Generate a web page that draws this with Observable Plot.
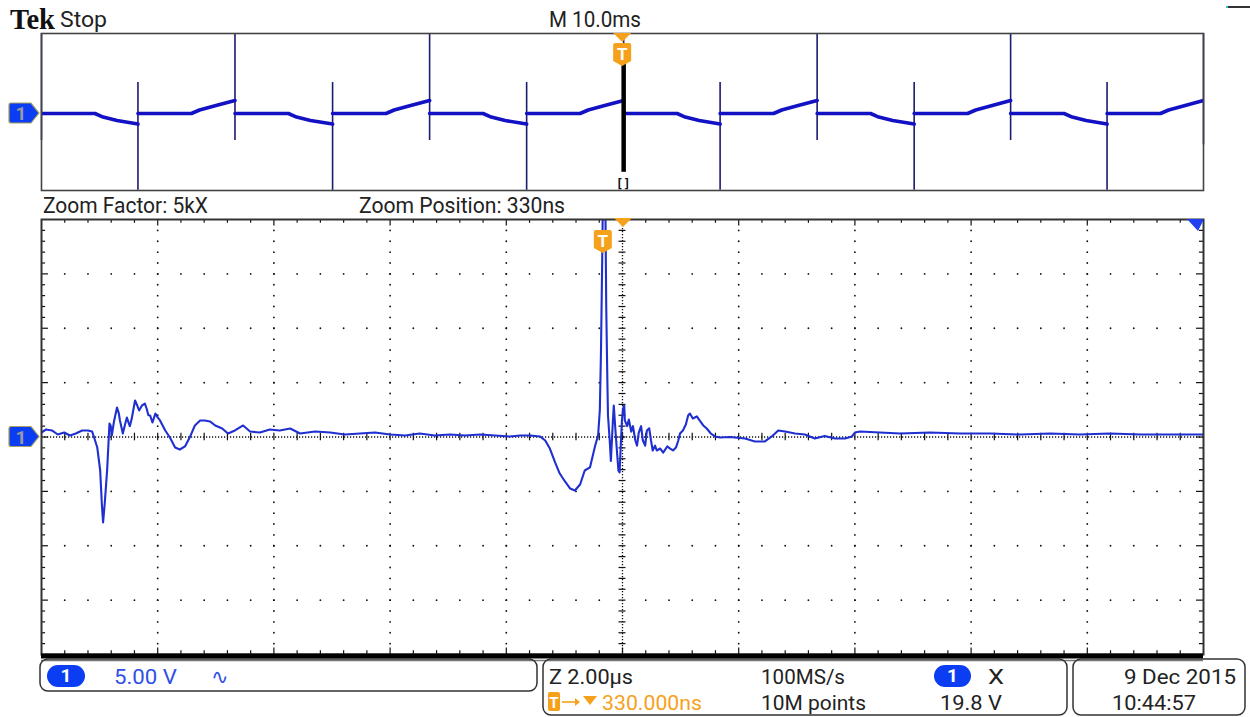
<!DOCTYPE html>
<html><head><meta charset="utf-8">
<script src="https://cdn.jsdelivr.net/npm/d3@7"></script>
<script src="https://cdn.jsdelivr.net/npm/@observablehq/plot@0.6"></script>
<style>
body{margin:0;background:#fff;}
#root{position:relative;width:1250px;height:717px;overflow:hidden;background:#fff;font-family:Roboto,sans-serif;}
</style></head><body><div id="root"></div>
<script>
// ---------------- DATA ----------------
// Zoomed window: time in µs (2.00 µs/div, 10 div), volts (5.00 V/div, 8 div)
const mainTrace = [
[-10.00,0.41],[-9.92,0.69],[-9.82,0.60],[-9.72,0.23],[-9.61,0.41],[-9.51,0.14],[-9.41,0.32],[-9.30,0.60],
[-9.20,0.60],[-9.13,0.51],[-9.10,0.05],[-9.04,-0.97],[-8.99,-3.08],[-8.96,-6.30],[-8.94,-7.86],[-8.91,-6.00],
[-8.87,-3.00],[-8.83,1.24],[-8.81,1.06],[-8.79,0.14],[-8.75,1.50],[-8.70,2.71],[-8.67,2.20],[-8.65,1.52],
[-8.62,0.80],[-8.60,0.32],[-8.56,1.20],[-8.53,1.79],[-8.50,1.30],[-8.48,1.00],[-8.45,1.60],[-8.39,3.36],
[-8.36,3.00],[-8.32,2.44],[-8.27,2.90],[-8.22,3.08],[-8.19,2.60],[-8.16,2.00],[-8.13,1.98],[-8.09,1.33],
[-8.04,2.16],[-8.00,1.80],[-7.96,1.52],[-7.87,0.60],[-7.79,-0.05],[-7.70,-0.97],[-7.62,-1.15],[-7.53,-0.87],
[-7.45,-0.05],[-7.36,1.06],[-7.27,1.52],[-7.19,1.52],[-7.10,1.43],[-7.01,1.06],[-6.89,0.78],[-6.79,0.32],
[-6.67,0.60],[-6.53,1.06],[-6.41,0.50],[-6.24,0.41],[-6.07,0.69],[-5.90,0.60],[-5.72,0.78],[-5.55,0.32],
[-5.29,0.51],[-5.03,0.41],[-4.78,0.23],[-4.52,0.32],[-4.26,0.41],[-4.00,0.23],[-3.74,0.14],[-3.49,0.32],
[-3.23,0.14],[-2.97,0.23],[-2.71,0.14],[-2.45,0.23],[-2.19,0.14],[-1.94,0.05],[-1.76,0.14],[-1.59,0.14],
[-1.42,0.05],[-1.33,-0.32],[-1.25,-1.06],[-1.16,-2.34],[-1.08,-3.36],[-0.99,-4.09],[-0.90,-4.74],[-0.82,-4.92],
[-0.73,-4.37],[-0.65,-3.08],[-0.56,-2.80],[-0.47,-0.78],[-0.42,0.14],[-0.39,2.50],[-0.37,8.00],[-0.35,16.00],
[-0.33,25.00],[-0.30,25.00],[-0.28,12.00],[-0.26,5.00],[-0.25,2.00],[-0.22,-0.32],[-0.20,-2.20],[-0.17,1.00],
[-0.15,2.90],[-0.12,0.50],[-0.09,-1.70],[-0.07,-3.10],[-0.05,-3.26],[-0.03,-0.80],[-0.01,1.50],[0.01,2.62],
[0.03,2.90],[0.04,1.52],[0.08,1.00],[0.11,1.60],[0.15,0.50],[0.18,1.00],[0.22,-0.30],[0.25,-0.80],
[0.28,0.40],[0.32,1.00],[0.35,-0.30],[0.39,-0.80],[0.42,0.60],[0.46,0.80],[0.49,-0.30],[0.52,-1.24],
[0.56,-0.80],[0.59,-1.24],[0.65,-1.06],[0.70,-1.43],[0.77,-0.87],[0.82,-1.06],[0.87,-1.24],[0.92,-0.97],
[0.96,-0.32],[0.99,0.32],[1.04,0.60],[1.09,1.15],[1.13,1.98],[1.16,2.16],[1.21,1.70],[1.28,1.89],
[1.33,1.50],[1.39,1.06],[1.45,0.78],[1.52,0.32],[1.59,0.05],[1.68,-0.05],[1.85,0.00],[2.11,-0.14],
[2.28,-0.41],[2.45,-0.41],[2.57,0.05],[2.68,0.60],[2.80,0.51],[2.97,0.32],[3.14,0.23],[3.31,-0.14],
[3.48,0.10],[3.66,-0.14],[3.83,-0.14],[3.95,0.05],[4.00,0.41],[4.09,0.51],[4.43,0.41],[4.78,0.32],
[5.29,0.41],[5.81,0.32],[6.33,0.32],[6.84,0.23],[7.36,0.32],[7.87,0.23],[8.39,0.32],[8.91,0.23],
[9.42,0.23],[10.00,0.23]
];

// Overview window: time in ms (10.0 ms/div), volts; null = break at each spike
const topTrace = [
[-50,0],[-45.4,0],[-44.7,-0.9],[-43.5,-1.8],[-41.7,-2.7],[-41.7,null],
[-41.7,0],[-37.1,0],[-36.4,0.9],[-34.9,2.1],[-33.35,3.3],[-33.35,null],
[-33.35,0],[-28.75,0],[-28.05,-0.9],[-26.85,-1.8],[-24.95,-2.7],[-24.95,null],
[-24.95,0],[-20.35,0],[-19.65,0.9],[-18.15,2.1],[-16.6,3.3],[-16.6,null],
[-16.6,0],[-12.0,0],[-11.3,-0.9],[-10.1,-1.8],[-8.25,-2.7],[-8.25,null],
[-8.25,0],[-3.65,0],[-2.95,0.9],[-1.45,2.1],[0.1,3.3],[0.1,null],
[0.1,0],[4.7,0],[5.4,-0.9],[6.6,-1.8],[8.4,-2.7],[8.4,null],
[8.4,0],[13.0,0],[13.7,0.9],[15.2,2.1],[16.75,3.3],[16.75,null],
[16.75,0],[21.35,0],[22.05,-0.9],[23.25,-1.8],[25.1,-2.7],[25.1,null],
[25.1,0],[29.7,0],[30.4,0.9],[31.9,2.1],[33.4,3.3],[33.4,null],
[33.4,0],[38.0,0],[38.7,-0.9],[39.9,-1.8],[41.7,-2.7],[41.7,null],
[41.7,0],[46.3,0],[47.0,0.9],[48.5,2.1],[50,3.3]
];
const spikeTime = [-50,-41.7,-33.35,-24.95,-16.6,-8.25,0.1,8.4,16.75,25.1,33.4,41.7,50];
const spikeHigh = [20.4,7.9,20.4,7.9,20.4,7.9,20.4,7.9,20.4,7.9,20.4,7.9,20.4];
const spikeLow  = [-6.9,-19.6,-6.9,-19.6,-6.9,-19.6,-6.9,-19.6,-6.9,-19.6,-6.9,-19.6,-8.0];
const triggerTime = 0.1, triggerTop = 13.0, triggerBottom = -15.0;
const zoomTriggerTime = -0.33;

// text labels
const headerLabels = {brand:"Tek", state:"Stop", timebase:"M 10.0ms",
  zoomFactor:"Zoom Factor: 5kX", zoomPos:"Zoom Position: 330ns"};
const statusLabels = {ch:"1", volts:"5.00 V", coupling:"∿", zscale:"Z 2.00µs", rate:"100MS/s",
  delay:"330.000ns", points:"10M points", trigLevel:"19.8 V", trigSlope:"X", date:"9 Dec  2015", time:"10:44:57"};

// ---------------- DRAW ----------------
const root = document.getElementById("root");
function place(el, left, top){ el.style.position="absolute"; el.style.left=left+"px"; el.style.top=top+"px"; root.appendChild(el); }

const BLUE = "#1f2fd0", ORANGE = "#f5a11c";

// graticule helpers
const minorX = d3.range(-25, 26).map(i => +(i*0.4).toFixed(2));
const minorY = d3.range(-20, 21);
const majorX = [-8,-6,-4,-2,2,4,6,8];
const majorY = [-15,-10,-5,5,10,15];
const innerX = minorX.filter(x => Math.abs(x) < 10);
const innerY = minorY.filter(y => Math.abs(y) < 20);
const gridDots = [
  ...majorX.flatMap(x => innerY.filter(y => y !== 0).map(y => ({x, y}))),
  ...majorY.flatMap(y => innerX.filter(x => x !== 0).map(x => ({x, y})))
];
const isMajX = x => Math.abs(x/2 - Math.round(x/2)) < 1e-6;
const isMajY = y => y % 5 === 0;

const MAIN_TOP = 212;
const mainPlot = Plot.plot({
  width: 1250, height: 450,
  marginLeft: 41, marginRight: 47, marginTop: 7, marginBottom: 8,
  x: {domain: [-10, 10], axis: null},
  y: {domain: [-20, 20], axis: null},
  style: {background: "transparent", overflow: "visible"},
  marks: [
    Plot.dot(gridDots, {x: "x", y: "y", r: 0.9, fill: "#111", stroke: null}),
    Plot.ruleX([0], {stroke: "#111", strokeWidth: 1.3, strokeDasharray: "1.2 1.8"}),
    Plot.ruleY([0], {stroke: "#111", strokeWidth: 1.3, strokeDasharray: "1.2 1.8"}),
    Plot.ruleX(innerX, {x: d => d, y1: -0.35, y2: 0.35, stroke: "#111", strokeWidth: 1.2}),
    Plot.ruleY(innerY, {y: d => d, x1: -0.06, x2: 0.06, stroke: "#111", strokeWidth: 1.2}),
    Plot.ruleX(innerX, {x: d => d, y1: 20, y2: d => isMajX(d) ? 19.4 : 19.65, stroke: "#111", strokeWidth: 1.2}),
    Plot.ruleX(innerX, {x: d => d, y1: -20, y2: d => isMajX(d) ? -19.4 : -19.65, stroke: "#111", strokeWidth: 1.2}),
    Plot.ruleY(innerY, {y: d => d, x1: -10, x2: d => isMajY(d) ? -9.88 : -9.93, stroke: "#111", strokeWidth: 1.2}),
    Plot.ruleY(innerY, {y: d => d, x1: 10, x2: d => isMajY(d) ? 9.88 : 9.93, stroke: "#111", strokeWidth: 1.2}),
    Plot.line(mainTrace, {x: d => d[0], y: d => d[1], stroke: BLUE, strokeWidth: 2.1, clip: true}),
    Plot.frame({stroke: "#333", strokeWidth: 2}),
    Plot.ruleY([-20], {stroke: "#000", strokeWidth: 5, dy: 1.5}),
    Plot.ruleY([-20], {stroke: "#777", strokeWidth: 1.5, dy: 6}),
  ]
});
place(mainPlot, 0, MAIN_TOP);

const TOP_TOP = 33;
const topPlot = Plot.plot({
  width: 1250, height: 157,
  marginLeft: 41, marginRight: 47, marginTop: 0, marginBottom: 0,
  x: {domain: [-50, 50], axis: null},
  y: {domain: [-19.64, 20.41], axis: null},
  style: {background: "transparent", overflow: "visible"},
  marks: [
    Plot.ruleX(spikeTime, {x: spikeTime, y1: spikeHigh, y2: spikeLow, stroke: "#1b1b70", strokeWidth: 1.6}),
    Plot.line(topTrace, {x: d => d[0], y: d => d[1], stroke: "#1212c4", strokeWidth: 3.6, clip: true}),
    Plot.ruleX([triggerTime], {y1: triggerTop, y2: triggerBottom, stroke: "#000", strokeWidth: 4.5}),
    Plot.frame({stroke: "#444", strokeWidth: 1.6}),
  ]
});
place(topPlot, 0, TOP_TOP);

// ---------------- CHROME OVERLAY ----------------
const mx = mainPlot.scale("x"), my = mainPlot.scale("y");
const tx = topPlot.scale("x"), ty = topPlot.scale("y");
const main0 = MAIN_TOP + my.apply(0);
const top0 = TOP_TOP + ty.apply(0);
const mainCenterX = mx.apply(0);
const zoomTrigX = mx.apply(zoomTriggerTime);
const topTrigX = tx.apply(triggerTime);

function chMarker(cy){
  return `<path d="M11,${cy-10} h20 l8,10 l-8,10 h-20 q-2,0 -2,-2 v-16 q0,-2 2,-2 z" fill="#0b3ef2" stroke="#a8a060" stroke-width="1.2"/>
  <text x="21" y="${cy+7}" text-anchor="middle" font-family="Roboto" font-weight="bold" font-size="19" fill="#9a9aa4">1</text>`;
}
function tMarker(cx, y0){
  return `<path d="M${cx-9},${y0+2} q0,-2 2,-2 h14 q2,0 2,2 v16 l-9,5 l-9,-5 z" fill="${ORANGE}"/>
  <text x="${cx}" y="${y0+17}" text-anchor="middle" font-family="Roboto" font-weight="bold" font-size="17" fill="#fff">T</text>`;
}
function tri(cx, y0){
  return `<path d="M${cx-9},${y0} h18 l-9,9 z" fill="${ORANGE}"/>`;
}
function txt(s, x, y, w, opts={}){
  const size = opts.size || 21, fill = opts.fill || "#222", fam = opts.family || "Roboto", wt = opts.weight || "normal";
  return `<text x="${x}" y="${y}" textLength="${w}" lengthAdjust="spacingAndGlyphs" font-family="${fam}" font-weight="${wt}" font-size="${size}" fill="${fill}">${s}</text>`;
}
function pill(x, y, w, h){
  return `<rect x="${x}" y="${y}" width="${w}" height="${h}" rx="${h/2}" fill="#0b3ef2"/>
  <text x="${x+w/2}" y="${y+h-5}" text-anchor="middle" font-family="Roboto" font-weight="bold" font-size="19" fill="#fff">1</text>`;
}

const overlay = document.createElementNS("http://www.w3.org/2000/svg", "svg");
overlay.setAttribute("width", 1250); overlay.setAttribute("height", 717);
overlay.innerHTML = `
  ${txt(headerLabels.brand, 10, 29, 45, {family:"Liberation Serif", weight:"bold", size:29, fill:"#111"})}
  ${txt(headerLabels.state, 60, 27, 47, {size:22})}
  ${txt(headerLabels.timebase, 549, 27, 92, {size:22})}
  ${txt(headerLabels.zoomFactor, 43, 213, 165, {size:22})}
  ${txt(headerLabels.zoomPos, 359, 213, 206, {size:22})}
  <line x1="1226" y1="7" x2="1250" y2="7" stroke="#333" stroke-width="2"/>
  <line x1="1226" y1="7" x2="1228" y2="7" stroke="#3cc" stroke-width="2"/>
  ${chMarker(top0)}
  ${chMarker(main0)}
  ${tri(topTrigX-1, 33)}
  ${tMarker(topTrigX-1, 43)}
  <text x="${topTrigX}" y="188" text-anchor="middle" font-family="DejaVu Sans Mono" font-weight="bold" font-size="12" fill="#111">[]</text>
  ${tri(mainCenterX+1, 218)}
  ${tMarker(zoomTrigX, 230)}
  <path d="M1187,219 h16 v2 l-5,10 z" fill="#1f3ff0"/>
  <rect x="40" y="659" width="497" height="32" rx="8" fill="none" stroke="#333" stroke-width="1.5"/>
  <rect x="543" y="659" width="524" height="56" rx="8" fill="none" stroke="#333" stroke-width="1.5"/>
  <rect x="1073" y="659" width="172" height="56" rx="8" fill="none" stroke="#333" stroke-width="1.5"/>
  ${pill(47, 665, 38, 22)}
  ${txt(statusLabels.volts, 114, 684, 63, {fill:"#2f4fe8"})}
  ${txt(statusLabels.coupling, 211, 684, 18, {fill:"#2f4fe8"})}
  ${txt(statusLabels.zscale, 549, 684, 84)}
  ${txt(statusLabels.rate, 761, 684, 84)}
  ${pill(934, 665, 37, 22)}
  ${txt(statusLabels.trigSlope, 988, 684, 16)}
  ${txt(statusLabels.date, 1124, 684, 112)}
  <rect x="548" y="692" width="12" height="19" rx="2" fill="${ORANGE}"/>
  <text x="554" y="708" text-anchor="middle" font-family="Roboto" font-weight="bold" font-size="15" fill="#fff">T</text>
  <path d="M562,702 h13" stroke="${ORANGE}" stroke-width="1.6"/><path d="M575,698 l5,4 l-5,4 z" fill="${ORANGE}"/>
  <path d="M583,696 h14 l-7,9 z" fill="${ORANGE}"/>
  ${txt(statusLabels.delay, 602, 710, 100, {fill:ORANGE})}
  ${txt(statusLabels.points, 761, 710, 105)}
  ${txt(statusLabels.trigLevel, 940, 710, 62)}
  ${txt(statusLabels.time, 1112, 710, 84)}
`;
place(overlay, 0, 0);
overlay.style.pointerEvents = "none";
</script>
</body></html>
